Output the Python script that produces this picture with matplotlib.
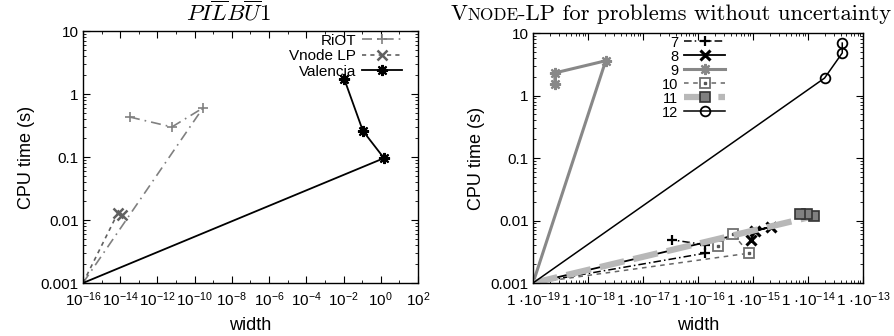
import numpy as np
import matplotlib
matplotlib.use("Agg")
import matplotlib.pyplot as plt
from matplotlib.legend_handler import HandlerTuple
from matplotlib.offsetbox import TextArea, HPacker, AnchoredOffsetbox

plt.rcParams['font.family'] = ['Liberation Sans', 'DejaVu Sans']
plt.rcParams['mathtext.fontset'] = 'custom'
plt.rcParams['mathtext.rm'] = 'Liberation Sans'
plt.rcParams['mathtext.it'] = 'Liberation Sans:italic'
plt.rcParams['mathtext.bf'] = 'Liberation Sans:bold'

# left panel data (first point = plot corner, gnuplot start)
riot_w = [1e-16, 2.8e-10, 6e-12, 3.4e-14]
riot_t = [0.001, 0.6, 0.3, 0.43]
vnode_w = [1e-16, 7.5e-15, 1.25e-14]
vnode_t = [0.001, 0.0129, 0.012]
val_w = [1e-16, 1.5, 0.11, 0.011]
val_t = [0.001, 0.096, 0.26, 1.73]

# right panel data
s7_w = [1e-19, 1.35e-16, 1.35e-16, 3.4e-17]
s7_t = [0.001, 0.003, 0.0041, 0.0049]
s8_w = [1e-19, 2.1e-15, 1.1e-15, 9.1e-16]
s8_t = [0.001, 0.0079, 0.0068, 0.0049]
s9_w = [1e-19, 2.1e-18, 2.5e-19, 2.5e-19]
s9_t = [0.001, 3.6, 2.3, 1.55]
s10_w = [1e-19, 8.5e-16, 4.3e-16, 2.3e-16]
s10_t = [0.001, 0.003, 0.0061, 0.0039]
s11_w = [1e-19, 1.3e-14, 9.5e-15, 7.1e-15]
s11_t = [0.001, 0.0118, 0.0127, 0.0127]
s12_w = [1e-19, 2e-14, 4.2e-14, 4.2e-14]
s12_t = [0.001, 1.9, 4.8, 6.9]

y_ticks = [0.001, 0.01, 0.1, 1, 10]
y_labels = ['0.001', '0.01', '0.1', '1', '10']
left_xexp = list(range(-16, 3, 2))
right_xexp = list(range(-19, -12))

fig = plt.figure(figsize=(8.94, 3.36), dpi=100)
ax1 = fig.add_axes([0.0928, 0.1577, 0.3747, 0.75])
ax2 = fig.add_axes([0.5962, 0.1577, 0.3691, 0.744])

skip = slice(1, None)
star = (8, 2, 0)

ax1.plot(riot_w, riot_t, color='#808080', ls=(0, (6, 3, 1, 3)), lw=1.2,
         marker='+', ms=7, mew=1.2, markevery=skip, label='RiOT')
ax1.plot(vnode_w, vnode_t, color='#606060', ls=(0, (2.5, 2.5)), lw=1.2,
         marker='x', ms=7, mew=1.8, markevery=skip, label='Vnode LP')
ax1.plot(val_w, val_t, color='black', lw=1.3,
         marker=star, ms=8, mew=1.5, markevery=skip, label='Valencia')

ax1.set_xscale('log')
ax1.set_yscale('log')
ax1.set_xlim(1e-16, 1e2)
ax1.set_ylim(0.001, 10)
ax1.set_xticks([10.0 ** e for e in left_xexp])
ax1.set_xticklabels([r'$\mathdefault{10^{%d}}$' % e for e in left_xexp])
ax1.set_xticks([10.0 ** e for e in range(-15, 2, 2)], minor=True)
ax1.set_xticklabels([], minor=True)
ax1.legend(loc='upper right', bbox_to_anchor=(0.952, 0.99), frameon=False,
           markerfirst=False, fontsize=11, handlelength=2.6, handletextpad=0.4,
           labelspacing=0.1, borderpad=0, borderaxespad=0, numpoints=1)
ax1.text(0.433, 1.02, r'$PI\overline{L}B\overline{U}1$', transform=ax1.transAxes,
         ha='center', va='bottom', fontsize=16.5, math_fontfamily='cm')

# right panel
l7, = ax2.plot(s7_w, s7_t, color='black', ls=(0, (5, 2, 1, 2)), lw=1.1,
               marker='+', ms=7, mew=1.6, markevery=skip)
l8, = ax2.plot(s8_w, s8_t, color='black', lw=1.3,
               marker='x', ms=7, mew=2.2, markevery=skip)
l9, = ax2.plot(s9_w, s9_t, color='#888888', lw=2.2,
               marker=star, ms=8, mew=1.6, markevery=skip)
l10, = ax2.plot(s10_w, s10_t, color='#666666', ls=(0, (3, 3)), lw=1.1,
                marker='s', ms=6.5, mew=1.3, mfc='white', mec='#707070', markevery=skip)
d10, = ax2.plot(s10_w[1:], s10_t[1:], ls='none', marker='s', ms=1.5,
                color='#555555')
l11, = ax2.plot(s11_w, s11_t, color='#b8b8b8', ls=(0, (4, 1.5)), lw=4.5,
                marker='s', ms=7, mew=1.2, mfc='#808080', mec='#333333', markevery=skip)
l12, = ax2.plot(s12_w, s12_t, color='black', lw=1.1,
                marker='o', ms=7, mew=1.3, mfc='none', markevery=skip)

ax2.set_xscale('log')
ax2.set_yscale('log')
ax2.set_xlim(1e-19, 1e-13)
ax2.set_ylim(0.001, 10)
ax2.set_xticks([10.0 ** e for e in right_xexp])
ax2.set_xticklabels([r'1 ·$\mathdefault{10^{%d}}$' % e for e in right_xexp])
ax2.legend([l7, l8, l9, (l10, d10), l11, l12], ['7', '8', '9', '10', '11', '12'],
           handler_map={tuple: HandlerTuple(ndivide=1)},
           loc='upper right', bbox_to_anchor=(0.582, 0.99), frameon=False,
           markerfirst=False, fontsize=10.5, handlelength=2.8, handletextpad=0.4,
           labelspacing=0.0, borderpad=0, borderaxespad=0, numpoints=1)

parts = [TextArea('V', textprops=dict(family='cmr10', size=16.3)),
         TextArea('NODE', textprops=dict(family='cmr10', size=12.4)),
         TextArea('-LP for problems without uncertainty',
                  textprops=dict(family='cmr10', size=16.3))]
box = HPacker(children=parts, align='baseline', pad=0, sep=0)
anch = AnchoredOffsetbox(loc='lower center', child=box, pad=0, borderpad=0,
                         bbox_to_anchor=(0.418, 1.035), bbox_transform=ax2.transAxes,
                         frameon=False)
ax2.add_artist(anch)

for ax in (ax1, ax2):
    ax.set_yticks(y_ticks)
    ax.set_yticklabels(y_labels)
    ax.tick_params(which='both', direction='in', top=True, right=True, labelsize=11)
    ax.tick_params(which='major', length=5, width=0.8, pad=3)
    ax.tick_params(axis='x', which='major', pad=5)
    ax.tick_params(which='minor', length=2.5, width=0.6)
    ax.set_xlabel('width', fontsize=13, labelpad=6)
    ax.set_ylabel('CPU time (s)', fontsize=13, labelpad=4)
    for sp in ax.spines.values():
        sp.set_linewidth(1.0)

fig.savefig('out.png', dpi=100)
